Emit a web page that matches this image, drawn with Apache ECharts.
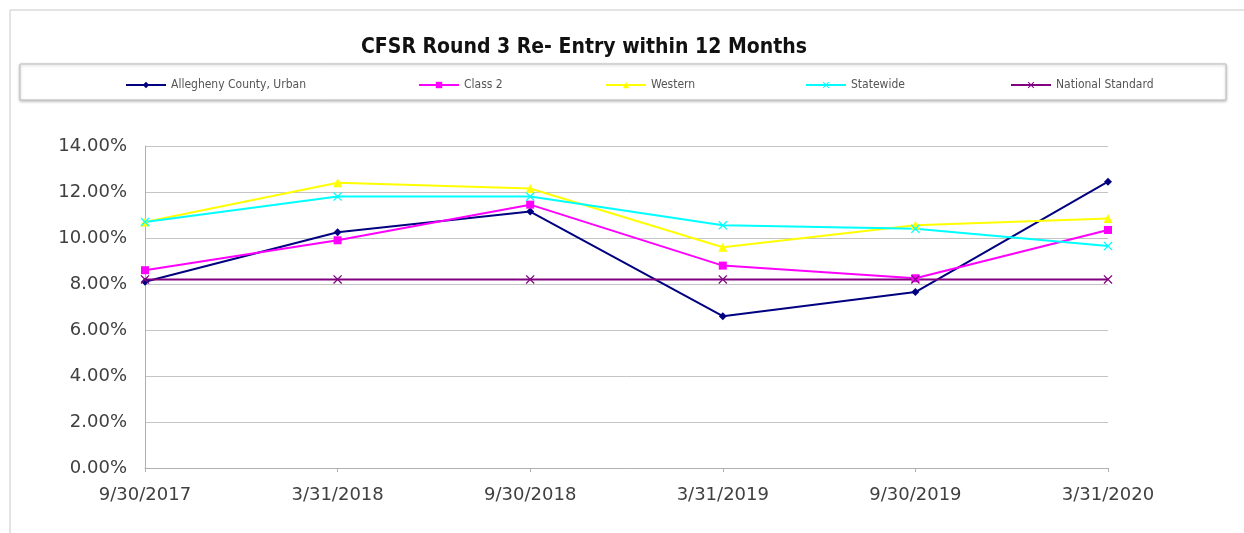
<!DOCTYPE html>
<html>
<head>
<meta charset="utf-8">
<script src="https://cdn.jsdelivr.net/npm/echarts@6/dist/echarts.min.js"></script>
<style>
  html, body { margin: 0; padding: 0; background: #fff; }
  #main { width: 1244px; height: 533px; }
</style>
</head>
<body>
<div id="main"></div>
<script>
var categories = ['9/30/2017', '3/31/2018', '9/30/2018', '3/31/2019', '9/30/2019', '3/31/2020'];
var allegheny = [8.1, 10.25, 11.15, 6.6, 7.65, 12.45];
var class2 = [8.6, 9.9, 11.45, 8.8, 8.25, 10.35];
var western = [10.7, 12.4, 12.15, 9.6, 10.55, 10.85];
var statewide = [10.7, 11.8, 11.8, 10.55, 10.4, 9.65];
var nationalStd = [8.2, 8.2, 8.2, 8.2, 8.2, 8.2];

var xMark = 'path://M0,1 L1,0 L5,4 L9,0 L10,1 L6,5 L10,9 L9,10 L5,6 L1,10 L0,9 L4,5 Z';

var seriesDefs = [
  { name: 'Allegheny County, Urban', data: allegheny, color: '#000080', symbol: 'diamond', size: 8 },
  { name: 'Class 2', data: class2, color: '#ff00ff', symbol: 'rect', size: 8 },
  { name: 'Western', data: western, color: '#ffff00', symbol: 'triangle', size: 9 },
  { name: 'Statewide', data: statewide, color: '#00ffff', symbol: xMark, size: 9 },
  { name: 'National Standard', data: nationalStd, color: '#800080', symbol: xMark, size: 9 }
];
var legendLeft = [120, 413, 600, 800, 1005];

var myChart = echarts.init(document.getElementById('main'));

var legends = seriesDefs.map(function (s, i) {
  return {
    data: [s.name],
    left: legendLeft[i],
    top: 74,
    itemWidth: 40,
    itemHeight: 8,
    itemGap: 6,
    textStyle: { fontSize: 12, color: '#555', fontFamily: 'DejaVu Sans Condensed' }
  };
});

var labelFont = { fontSize: 18, color: '#404040', fontFamily: 'DejaVu Sans' };

var option = {
  animation: false,
  backgroundColor: '#fff',
  title: {
    text: 'CFSR Round 3 Re- Entry within 12 Months',
    left: 356,
    top: 32,
    textStyle: { fontSize: 21, fontWeight: 'bold', color: '#111', fontFamily: 'DejaVu Sans Condensed' }
  },
  graphic: [
    { type: 'rect', shape: { x: 10, y: 10, width: 1240, height: 530 },
      style: { fill: 'none', stroke: '#c8c8c8', lineWidth: 1 }, z: -1 },
    { type: 'rect', shape: { x: 20, y: 64, width: 1206, height: 36 },
      style: { fill: '#fff', stroke: '#bdbdbd', lineWidth: 1, shadowBlur: 3, shadowColor: 'rgba(0,0,0,0.25)', shadowOffsetY: 1 }, z: -1 }
  ],
  legend: legends,
  grid: { left: 145, right: 136, top: 146, bottom: 65 },
  xAxis: {
    type: 'category',
    data: categories,
    boundaryGap: false,
    axisLine: { lineStyle: { color: '#b0b0b0' } },
    axisTick: { show: true, length: 4, lineStyle: { color: '#b0b0b0' } },
    axisLabel: Object.assign({ margin: 18 }, labelFont)
  },
  yAxis: {
    type: 'value',
    min: 0,
    max: 14,
    interval: 2,
    axisLine: { show: true, lineStyle: { color: '#b0b0b0' } },
    axisTick: { show: false },
    splitLine: { lineStyle: { color: '#c4c4c4' } },
    axisLabel: Object.assign({
      margin: 18,
      formatter: function (v) { return v.toFixed(2) + '%'; }
    }, labelFont)
  },
  series: seriesDefs.map(function (s) {
    return {
      name: s.name,
      type: 'line',
      data: s.data,
      symbol: s.symbol,
      symbolSize: s.size,
      color: s.color,
      lineStyle: { width: 2, color: s.color },
      itemStyle: { color: s.color },
      emphasis: { disabled: true }
    };
  })
};
myChart.setOption(option);
</script>
</body>
</html>
